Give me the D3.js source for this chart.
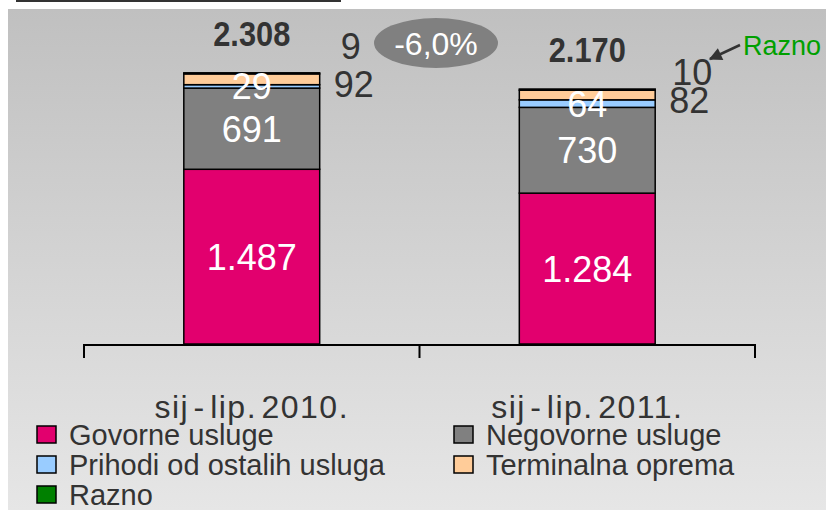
<!DOCTYPE html>
<html>

<head>
  <script src="https://d3js.org/d3.v7.min.js"></script>
  <style>
    body { margin: 0; background: #fff; }
    text { font-family: "Liberation Sans", Arial, sans-serif; }
  </style>
</head>

<body>

  <div id="chart"></div>

  <script>
    const width = 826;
    const height = 510;

    // periods on the x axis
    const periods = ["sij - lip. 2010.", "sij - lip. 2011."];
    // revenue series, stacked bottom to top
    const series = ["Govorne usluge", "Negovorne usluge", "Prihodi od ostalih usluga", "Terminalna oprema", "Razno"];
    const govorne = [1487, 1284];
    const negovorne = [691, 730];
    const prihodi = [29, 64];
    const terminalna = [92, 82];
    const razno = [9, 10];
    const totals = ["2.308", "2.170"];
    const change = "-6,0%";

    const colors = ["#e2006e", "#808080", "#99ccff", "#ffcc99", "#008000"];

    const rows = periods.map((p, i) => ({
      period: p,
      "Govorne usluge": govorne[i],
      "Negovorne usluge": negovorne[i],
      "Prihodi od ostalih usluga": prihodi[i],
      "Terminalna oprema": terminalna[i],
      "Razno": razno[i]
    }));

    const fmt = d3.formatLocale({ decimal: ",", thousands: ".", grouping: [3], currency: ["", ""] }).format(",d");

    const svg = d3.select("#chart")
      .append("svg")
      .attr("width", width)
      .attr("height", height);

    const defs = svg.append("defs");
    const grad = defs.append("linearGradient")
      .attr("id", "bg")
      .attr("x1", 0).attr("y1", 0).attr("x2", 0).attr("y2", 1);
    grad.append("stop").attr("offset", "0%").attr("stop-color", "#c0c0c0");
    grad.append("stop").attr("offset", "100%").attr("stop-color", "#e6e6e6");

    svg.append("rect")
      .attr("x", 8).attr("y", 9)
      .attr("width", width - 8).attr("height", height - 9)
      .attr("fill", "url(#bg)");

    // title underline left over from the slide
    svg.append("rect")
      .attr("x", 16).attr("y", 0)
      .attr("width", 325).attr("height", 2)
      .attr("fill", "#333");

    const x = d3.scaleBand()
      .domain(periods)
      .range([84, 755])
      .padding(0);

    const y = d3.scaleLinear()
      .domain([0, 2400])
      .range([344, 62]);

    const barW = x.bandwidth() * 0.405;
    const cx = d => x(d) + x.bandwidth() / 2;

    const stack = d3.stack().keys(series);
    const layers = stack(rows);

    const layer = svg.selectAll(".layer")
      .data(layers)
      .enter().append("g")
      .attr("class", "layer")
      .attr("fill", (d, i) => colors[i]);

    layer.selectAll("rect")
      .data(d => d)
      .enter().append("rect")
      .attr("x", d => cx(d.data.period) - barW / 2)
      .attr("y", d => y(d[1]))
      .attr("width", barW)
      .attr("height", d => y(d[0]) - y(d[1]))
      .attr("stroke", "#000")
      .style("stroke-width", "1.5px");

    // white labels inside the bar (bottom three series)
    layers.slice(0, 3).forEach(l => {
      svg.selectAll(null)
        .data(l)
        .enter().append("text")
        .attr("x", d => cx(d.data.period))
        .attr("y", d => (y(d[0]) + y(d[1])) / 2)
        .attr("dy", "0.36em")
        .attr("text-anchor", "middle")
        .attr("fill", "#fff")
        .style("font-size", "36px")
        .text(d => fmt(d[1] - d[0]));
    });

    // outside labels for Terminalna oprema and Razno
    const term = layers[3];
    const termY = d => (y(d[0]) + y(d[1])) / 2 + 18;
    svg.selectAll(".term-lbl")
      .data(term)
      .enter().append("text")
      .attr("class", "term-lbl")
      .attr("x", d => cx(d.data.period) + barW / 2 + 14)
      .attr("y", termY)
      .attr("fill", "#333")
      .style("font-size", "36px")
      .text(d => fmt(d[1] - d[0]));

    svg.selectAll(".razno-lbl")
      .data(layers[4])
      .enter().append("text")
      .attr("class", "razno-lbl")
      .attr("x", (d, i) => cx(d.data.period) + barW / 2 + (i ? 17 : 21))
      .attr("y", (d, i) => termY(term[i]) - (i ? 28 : 38))
      .attr("fill", "#333")
      .style("font-size", "36px")
      .text(d => fmt(d[1] - d[0]));

    // totals above bars
    svg.selectAll(".total")
      .data(layers[4])
      .enter().append("text")
      .attr("class", "total")
      .attr("transform", d => "translate(" + cx(d.data.period) + "," + (y(d[1]) - 27) + ") scale(0.88,1)")
      .attr("text-anchor", "middle")
      .attr("fill", "#333")
      .style("font-size", "35px")
      .style("font-weight", "bold")
      .text((d, i) => totals[i]);

    // change bubble
    svg.append("ellipse")
      .attr("cx", 436).attr("cy", 43)
      .attr("rx", 62).attr("ry", 25)
      .attr("fill", "#808080");
    svg.append("text")
      .attr("x", 436).attr("y", 43)
      .attr("dy", "0.36em")
      .attr("text-anchor", "middle")
      .attr("fill", "#fff")
      .style("font-size", "32px")
      .text(change);

    // Razno pointer
    defs.append("marker")
      .attr("id", "arr")
      .attr("viewBox", "0 0 10 10")
      .attr("refX", 9).attr("refY", 5)
      .attr("markerUnits", "userSpaceOnUse")
      .attr("markerWidth", 15).attr("markerHeight", 13)
      .attr("orient", "auto")
      .append("path")
      .attr("d", "M0,0L10,5L0,10z")
      .attr("fill", "#333");
    svg.append("line")
      .attr("x1", 740).attr("y1", 45)
      .attr("x2", 710).attr("y2", 59)
      .attr("stroke", "#333")
      .style("stroke-width", "2.5px")
      .attr("marker-end", "url(#arr)");
    svg.append("text")
      .attr("x", 743).attr("y", 55)
      .attr("fill", "#00a000")
      .style("font-size", "27px")
      .text("Razno");

    // category axis with boundary ticks
    const axis = svg.append("g");
    axis.append("line")
      .attr("x1", x.range()[0]).attr("x2", x.range()[1])
      .attr("y1", 345).attr("y2", 345)
      .attr("stroke", "#000").style("stroke-width", "2px");
    axis.selectAll(".tick")
      .data(periods.map(p => x(p)).concat([x.range()[1]]))
      .enter().append("line")
      .attr("x1", d => d).attr("x2", d => d)
      .attr("y1", 344).attr("y2", 358)
      .attr("stroke", "#000").style("stroke-width", "2px");
    axis.selectAll(".cat")
      .data(periods)
      .enter().append("text")
      .attr("x", d => cx(d))
      .attr("y", 418)
      .attr("text-anchor", "middle")
      .attr("fill", "#333")
      .style("font-size", "32px")
      .style("letter-spacing", "1.5px")
      .style("word-spacing", "-6px")
      .text(d => d);

    // legend
    const leg = svg.selectAll(".leg")
      .data(series)
      .enter().append("g")
      .attr("class", "leg")
      .attr("transform", (d, i) => "translate(" + (i % 2 ? 454 : 37) + "," + (445 + Math.floor(i / 2) * 30) + ")");
    leg.append("rect")
      .attr("x", 0).attr("y", -19)
      .attr("width", 19).attr("height", 17)
      .attr("fill", (d, i) => colors[i])
      .attr("stroke", "#000")
      .style("stroke-width", "1.5px");
    leg.append("text")
      .attr("x", 32).attr("y", 0)
      .attr("fill", "#333")
      .style("font-size", "29px")
      .text(d => d);
  </script>
</body>

</html>
